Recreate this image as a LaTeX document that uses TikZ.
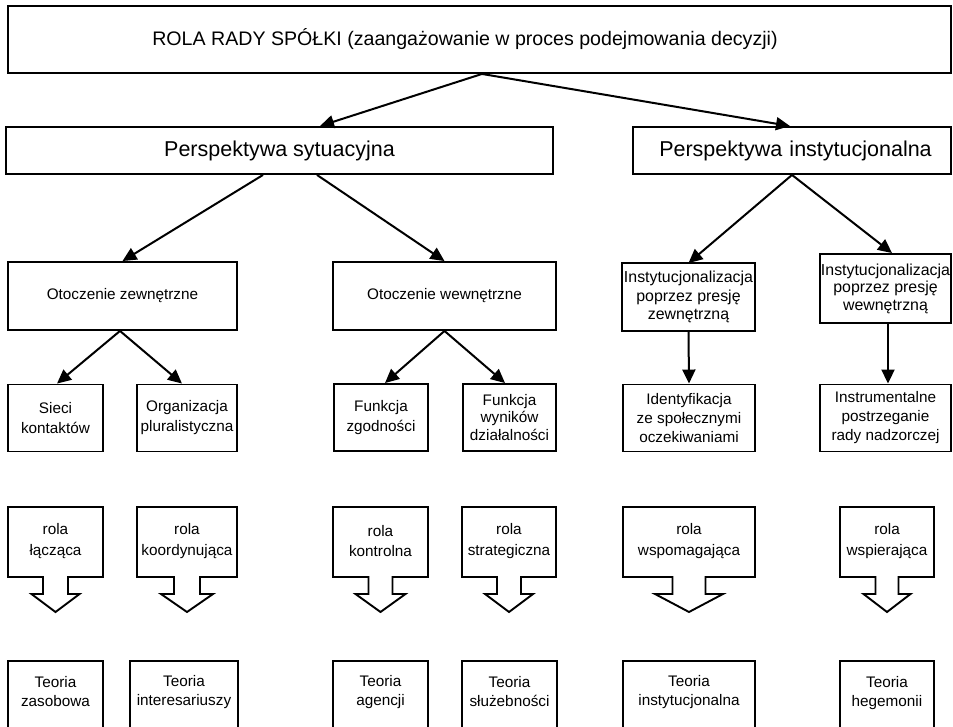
\documentclass[tikz,border=0pt]{standalone}
\usepackage{fontspec}
\setmainfont{Liberation Sans}
\usetikzlibrary{arrows.meta}

% block arrow: rectangle with a downward arrow below it
% #1 left, #2 right, #3 centre x, #4 half shaft width, #5 half head width
\newcommand\rolearrow[5]{%
  \draw[outline] (#1,507) -- (#2,507) -- (#2,577) -- (#3+#4,577) -- (#3+#4,594)
    -- (#3+#5,594) -- (#3,612) -- (#3-#5,594) -- (#3-#4,594) -- (#3-#4,577)
    -- (#1,577) -- cycle;}

\begin{document}
\begin{tikzpicture}[x=1pt,y=-1pt,
  outline/.style={line width=1.9pt, line join=miter},
  box/.style={draw, line width=1.9pt, rectangle, inner sep=0pt, align=center,
    font=\fontsize{15.3}{19}\selectfont},
  lbl/.style={inner sep=0pt, align=center, font=\fontsize{15.3}{19}\selectfont},
  conn/.style={line width=2pt, -{Triangle[length=14pt,width=13pt]}}]

\useasboundingbox (0,0) rectangle (953,727);
\clip (0,0) rectangle (953,727);

% top level
\node[box, minimum width=943, minimum height=67] (top) at (479.5,39.5) {};
\node[lbl, font=\fontsize{19.6}{23}\selectfont] (topt) at (465,39.5)
  {ROLA RADY SPÓŁKI (zaangażowanie w proces podejmowania decyzji)};

% perspectives
\node[box, minimum width=547, minimum height=47, font=\fontsize{21.5}{25}\selectfont]
  (pS) at (279.5,150.5) {Perspektywa sytuacyjna};
\node[box, minimum width=318, minimum height=47, font=\fontsize{21.5}{25}\selectfont,
  text width=318, align=center, execute at begin node={\hspace*{7pt}}]
  (pI) at (792,150.5) {Perspektywa instytucjonalna};

% second level
\node[box, minimum width=229, minimum height=68] (oZ) at (122.5,296) {Otoczenie zewnętrzne};
\node[box, minimum width=223, minimum height=68] (oW) at (444.5,296) {Otoczenie wewnętrzne};
\node[box, minimum width=133, minimum height=68, font=\fontsize{15.9}{18.5}\selectfont]
  (iZ) at (688.5,297) {Instytucjonalizacja\\poprzez presję\\zewnętrzną};
\node[box, minimum width=131, minimum height=69, font=\fontsize{15.9}{17.5}\selectfont]
  (iW) at (885.5,288.5) {Instytucjonalizacja\\poprzez presję\\wewnętrzną};

% third level
\node[box, minimum width=95, minimum height=67] (sieci) at (55.5,418) {Sieci\\[1pt]kontaktów};
\node[box, minimum width=100, minimum height=67] (org) at (187,418) {Organizacja\\[1pt]pluralistyczna};
\node[box, minimum width=94, minimum height=67] (fZ) at (381,417.5) {Funkcja\\[1pt]zgodności};
\node[box, minimum width=93, minimum height=67] (fW) at (509.5,417.5)
  {Funkcja\\[-1.5pt]wyników\\[-1.5pt]działalności};
\node[box, minimum width=132, minimum height=67] (ident) at (689,418)
  {Identyfikacja\\ze społecznymi\\oczekiwaniami};
\node[box, minimum width=131, minimum height=67] (instr) at (885.5,418)
  {Instrumentalne\\postrzeganie\\rady nadzorczej};

% roles
\rolearrow{8}{103}{55.5}{12.5}{24}
\rolearrow{137}{237}{187}{13}{26}
\rolearrow{333}{428}{380.5}{12}{25}
\rolearrow{462}{556}{509}{12}{24}
\rolearrow{623}{755}{689}{16.5}{34}
\rolearrow{840}{934}{887}{11.5}{23.5}
\node[lbl] (r1) at (55.5,541) {rola\\[1.5pt]łącząca};
\node[lbl] (r2) at (187,541) {rola\\[1.5pt]koordynująca};
\node[lbl] (r3) at (380.5,541) {rola\\[1.5pt]kontrolna};
\node[lbl] (r4) at (509,541) {rola\\[1.5pt]strategiczna};
\node[lbl] (r5) at (689,541) {rola\\[1.5pt]wspomagająca};
\node[lbl] (r6) at (887,541) {rola\\[1.5pt]wspierająca};

% theories (boxes run past the lower edge)
\node[box, minimum width=95, minimum height=80] (t1) at (55.5,701) {};
\node[box, minimum width=108, minimum height=80] (t2) at (184,701) {};
\node[box, minimum width=95, minimum height=80] (t3) at (380.5,701) {};
\node[box, minimum width=95, minimum height=80] (t4) at (509.5,701) {};
\node[box, minimum width=132, minimum height=80] (t5) at (689,701) {};
\node[box, minimum width=94, minimum height=80] (t6) at (887,701) {};
\node[lbl] (t1t) at (55.5,692) {Teoria\\zasobowa};
\node[lbl] (t2t) at (184,692) {Teoria\\interesariuszy};
\node[lbl] (t3t) at (380.5,692) {Teoria\\agencji};
\node[lbl] (t4t) at (509.5,692) {Teoria\\służebności};
\node[lbl] (t5t) at (689,692) {Teoria\\instytucjonalna};
\node[lbl] (t6t) at (887,693) {Teoria\\hegemonii};

% connectors
\draw[conn] ([xshift=2.5pt]top.south) -- ([xshift=40.5pt]pS.north);
\draw[conn] ([xshift=2.5pt]top.south) -- ([xshift=-2pt]pI.north);
\draw[conn] ([xshift=-16.5pt]pS.south) -- (oZ.north);
\draw[conn] ([xshift=37.5pt]pS.south) -- (oW.north);
\draw[conn] (pI.south) -- ([yshift=-1pt]iZ.north);
\draw[conn] (pI.south) -- ([xshift=6.5pt]iW.north);
\draw[conn] ([xshift=-2.5pt]oZ.south) -- ([xshift=1.5pt]sieci.north);
\draw[conn] ([xshift=-2.5pt]oZ.south) -- ([xshift=-5pt]org.north);
\draw[conn] (oW.south) -- ([xshift=4pt]fZ.north);
\draw[conn] (oW.south) -- ([xshift=-4.5pt]fW.north);
\draw[conn] (iZ.south) -- (ident.north);
\draw[conn] ([xshift=2.5pt]iW.south) -- ([xshift=2.5pt]instr.north);
\end{tikzpicture}
\end{document}
